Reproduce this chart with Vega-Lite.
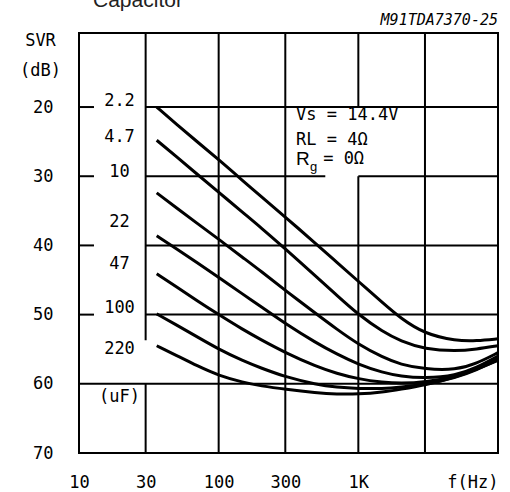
{
  "$schema": "https://vega.github.io/schema/vega-lite/v6.json",
  "width": 419,
  "height": 420,
  "autosize": {"type": "none"},
  "padding": {"left": 79, "top": 33, "right": 12, "bottom": 39},
  "background": "white",
  "config": {"view": {"stroke": "black", "strokeWidth": 2}},
  "datasets": {
    "grid": [
      {"f": 30, "f2": 10000, "db": 20, "db2": 20},
      {"f": 30, "f2": 580, "db": 30, "db2": 30},
      {"f": 1000, "f2": 10000, "db": 30, "db2": 30},
      {"f": 30, "f2": 10000, "db": 40, "db2": 40},
      {"f": 30, "f2": 10000, "db": 50, "db2": 50},
      {"f": 10, "f2": 10000, "db": 60, "db2": 60},
      {"f": 10, "f2": 12.8, "db": 20, "db2": 20},
      {"f": 10, "f2": 12.8, "db": 30, "db2": 30},
      {"f": 10, "f2": 12.8, "db": 40, "db2": 40},
      {"f": 10, "f2": 12.8, "db": 50, "db2": 50},
      {"f": 30, "f2": 30, "db": 9.3, "db2": 53.7},
      {"f": 30, "f2": 30, "db": 60, "db2": 70},
      {"f": 100, "f2": 100, "db": 9.3, "db2": 70},
      {"f": 300, "f2": 300, "db": 9.3, "db2": 70},
      {"f": 1000, "f2": 1000, "db": 9.3, "db2": 20},
      {"f": 1000, "f2": 1000, "db": 30, "db2": 70},
      {"f": 3000, "f2": 3000, "db": 9.3, "db2": 70}
    ],
    "curves": [
      {"cap": "2.2", "f": 36, "db": 20.0}, {"cap": "2.2", "f": 50, "db": 22.5}, {"cap": "2.2", "f": 70, "db": 25.0}, {"cap": "2.2", "f": 100, "db": 27.6},
      {"cap": "2.2", "f": 150, "db": 30.7}, {"cap": "2.2", "f": 200, "db": 32.9}, {"cap": "2.2", "f": 300, "db": 35.9}, {"cap": "2.2", "f": 500, "db": 39.8},
      {"cap": "2.2", "f": 700, "db": 42.4}, {"cap": "2.2", "f": 1000, "db": 45.2}, {"cap": "2.2", "f": 1500, "db": 48.3}, {"cap": "2.2", "f": 2000, "db": 50.5},
      {"cap": "2.2", "f": 3000, "db": 52.8}, {"cap": "2.2", "f": 5000, "db": 53.8}, {"cap": "2.2", "f": 7000, "db": 53.8}, {"cap": "2.2", "f": 10000, "db": 53.5},

      {"cap": "4.7", "f": 36, "db": 24.8}, {"cap": "4.7", "f": 50, "db": 27.2}, {"cap": "4.7", "f": 70, "db": 29.7}, {"cap": "4.7", "f": 100, "db": 32.3},
      {"cap": "4.7", "f": 150, "db": 35.3}, {"cap": "4.7", "f": 200, "db": 37.4}, {"cap": "4.7", "f": 300, "db": 40.5}, {"cap": "4.7", "f": 500, "db": 44.5},
      {"cap": "4.7", "f": 700, "db": 47.2}, {"cap": "4.7", "f": 1000, "db": 50.0}, {"cap": "4.7", "f": 1500, "db": 52.5}, {"cap": "4.7", "f": 2000, "db": 53.8},
      {"cap": "4.7", "f": 3000, "db": 55.0}, {"cap": "4.7", "f": 5000, "db": 55.3}, {"cap": "4.7", "f": 7000, "db": 55.0}, {"cap": "4.7", "f": 10000, "db": 54.5},

      {"cap": "10", "f": 36, "db": 32.4}, {"cap": "10", "f": 50, "db": 34.6}, {"cap": "10", "f": 70, "db": 36.8}, {"cap": "10", "f": 100, "db": 39.1},
      {"cap": "10", "f": 150, "db": 41.8}, {"cap": "10", "f": 200, "db": 43.7}, {"cap": "10", "f": 300, "db": 46.5}, {"cap": "10", "f": 500, "db": 49.9},
      {"cap": "10", "f": 700, "db": 52.1}, {"cap": "10", "f": 1000, "db": 54.3}, {"cap": "10", "f": 1500, "db": 56.2}, {"cap": "10", "f": 2000, "db": 57.2},
      {"cap": "10", "f": 3000, "db": 57.9}, {"cap": "10", "f": 5000, "db": 58.0}, {"cap": "10", "f": 7000, "db": 57.1}, {"cap": "10", "f": 10000, "db": 55.5},

      {"cap": "22", "f": 36, "db": 38.6}, {"cap": "22", "f": 50, "db": 40.5}, {"cap": "22", "f": 70, "db": 42.5}, {"cap": "22", "f": 100, "db": 44.6},
      {"cap": "22", "f": 150, "db": 47.1}, {"cap": "22", "f": 200, "db": 48.8}, {"cap": "22", "f": 300, "db": 51.3}, {"cap": "22", "f": 500, "db": 54.1},
      {"cap": "22", "f": 700, "db": 55.7}, {"cap": "22", "f": 1000, "db": 57.2}, {"cap": "22", "f": 1500, "db": 58.4}, {"cap": "22", "f": 2000, "db": 58.9},
      {"cap": "22", "f": 3000, "db": 59.2}, {"cap": "22", "f": 5000, "db": 58.8}, {"cap": "22", "f": 7000, "db": 57.7}, {"cap": "22", "f": 10000, "db": 56.0},

      {"cap": "47", "f": 36, "db": 44.1}, {"cap": "47", "f": 50, "db": 46.0}, {"cap": "47", "f": 70, "db": 48.0}, {"cap": "47", "f": 100, "db": 50.0},
      {"cap": "47", "f": 150, "db": 52.2}, {"cap": "47", "f": 200, "db": 53.6}, {"cap": "47", "f": 300, "db": 55.5}, {"cap": "47", "f": 500, "db": 57.5},
      {"cap": "47", "f": 700, "db": 58.5}, {"cap": "47", "f": 1000, "db": 59.3}, {"cap": "47", "f": 1500, "db": 59.8}, {"cap": "47", "f": 2000, "db": 59.95},
      {"cap": "47", "f": 3000, "db": 59.8}, {"cap": "47", "f": 5000, "db": 58.9}, {"cap": "47", "f": 7000, "db": 57.9}, {"cap": "47", "f": 10000, "db": 56.3},

      {"cap": "100", "f": 36, "db": 49.9}, {"cap": "100", "f": 50, "db": 51.5}, {"cap": "100", "f": 70, "db": 53.2}, {"cap": "100", "f": 100, "db": 55.0},
      {"cap": "100", "f": 150, "db": 56.7}, {"cap": "100", "f": 200, "db": 57.7}, {"cap": "100", "f": 300, "db": 59.0}, {"cap": "100", "f": 500, "db": 60.1},
      {"cap": "100", "f": 700, "db": 60.5}, {"cap": "100", "f": 1000, "db": 60.7}, {"cap": "100", "f": 1500, "db": 60.7}, {"cap": "100", "f": 2000, "db": 60.5},
      {"cap": "100", "f": 3000, "db": 60.1}, {"cap": "100", "f": 5000, "db": 59.1}, {"cap": "100", "f": 7000, "db": 58.0}, {"cap": "100", "f": 10000, "db": 56.5},

      {"cap": "220", "f": 36, "db": 54.5}, {"cap": "220", "f": 50, "db": 55.9}, {"cap": "220", "f": 70, "db": 57.4}, {"cap": "220", "f": 100, "db": 58.8},
      {"cap": "220", "f": 150, "db": 59.8}, {"cap": "220", "f": 200, "db": 60.3}, {"cap": "220", "f": 300, "db": 60.8}, {"cap": "220", "f": 500, "db": 61.3},
      {"cap": "220", "f": 700, "db": 61.5}, {"cap": "220", "f": 1000, "db": 61.5}, {"cap": "220", "f": 1500, "db": 61.2}, {"cap": "220", "f": 2000, "db": 60.8},
      {"cap": "220", "f": 3000, "db": 60.2}, {"cap": "220", "f": 5000, "db": 59.0}, {"cap": "220", "f": 7000, "db": 57.9}, {"cap": "220", "f": 10000, "db": 56.6}
    ],
    "caplabels": [
      {"label": "2.2", "f": 19.5, "db": 19.1},
      {"label": "4.7", "f": 19.5, "db": 24.3},
      {"label": "10", "f": 19.5, "db": 29.4},
      {"label": "22", "f": 19.5, "db": 36.6},
      {"label": "47", "f": 19.5, "db": 42.7},
      {"label": "100", "f": 19.5, "db": 49.0},
      {"label": "220", "f": 19.5, "db": 55.0},
      {"label": "(uF)", "f": 19.5, "db": 61.9}
    ],
    "notes": [
      {"label": "Vs = 14.4V", "f": 358, "db": 21.1},
      {"label": "RL = 4Ω", "f": 358, "db": 24.8},
      {"label": "= 0Ω", "f": 560, "db": 27.5}
    ],
    "rlabel": [{"label": "R", "f": 358, "db": 27.5}],
    "glabel": [{"label": "g", "f": 450, "db": 28.7}],
    "code": [{"label": "M91TDA7370-25", "f": 10000, "db": 7.4}],
    "heading": [{"label": "Capacitor", "f": 12.6, "db": 5.5}]
  },
  "encoding": {
    "x": {
      "field": "f",
      "type": "quantitative",
      "scale": {"type": "log", "domain": [10, 10000], "nice": false},
      "axis": {
        "values": [10, 30, 100, 300, 1000, 3000, 10000],
        "labelExpr": "datum.value >= 10000 ? 'f(Hz)' : (datum.value == 3000 ? '' : (datum.value == 1000 ? '1K' : format(datum.value, 'd')))",
        "labelAlign": {"condition": {"test": "datum.value >= 10000", "value": "right"}, "value": "center"},
        "labelFont": "DejaVu Sans Mono",
        "labelFontSize": 17,
        "labelColor": "black",
        "labelPadding": 21,
        "labelOverlap": false,
        "labelBound": false,
        "labelFlush": false,
        "ticks": false,
        "domain": false,
        "grid": false,
        "title": null
      }
    },
    "y": {
      "field": "db",
      "type": "quantitative",
      "scale": {"domain": [9.3, 70], "reverse": true, "nice": false, "zero": false},
      "axis": {
        "values": [20, 30, 40, 50, 60, 70],
        "labelFont": "DejaVu Sans Mono",
        "labelFontSize": 17,
        "labelColor": "black",
        "labelPadding": 26,
        "labelOverlap": false,
        "labelBound": false,
        "labelFlush": false,
        "ticks": false,
        "domain": false,
        "grid": false,
        "title": ["SVR", "(dB)"],
        "titleAngle": 0,
        "titleX": -39,
        "titleY": 7,
        "titleAlign": "center",
        "titleBaseline": "middle",
        "titleFont": "DejaVu Sans Mono",
        "titleFontSize": 17,
        "titleFontWeight": "normal",
        "titleColor": "black",
        "titleLineHeight": 30
      }
    }
  },
  "layer": [
    {
      "data": {"name": "grid"},
      "mark": {"type": "rule", "color": "black", "strokeWidth": 2},
      "encoding": {"x2": {"field": "f2"}, "y2": {"field": "db2"}}
    },
    {
      "data": {"name": "curves"},
      "mark": {"type": "line", "color": "black", "strokeWidth": 3, "interpolate": "basis"},
      "encoding": {"detail": {"field": "cap", "type": "nominal"}}
    },
    {
      "data": {"name": "caplabels"},
      "mark": {"type": "text", "font": "DejaVu Sans Mono", "fontSize": 17, "align": "center", "baseline": "middle", "color": "black"},
      "encoding": {"text": {"field": "label"}}
    },
    {
      "data": {"name": "notes"},
      "mark": {"type": "text", "font": "DejaVu Sans Mono", "fontSize": 17, "align": "left", "baseline": "middle", "color": "black"},
      "encoding": {"text": {"field": "label"}}
    },
    {
      "data": {"name": "rlabel"},
      "mark": {"type": "text", "font": "Liberation Sans", "fontSize": 19, "align": "left", "baseline": "middle", "color": "black"},
      "encoding": {"text": {"field": "label"}}
    },
    {
      "data": {"name": "glabel"},
      "mark": {"type": "text", "font": "Liberation Sans", "fontSize": 13, "align": "left", "baseline": "middle", "color": "black"},
      "encoding": {"text": {"field": "label"}}
    },
    {
      "data": {"name": "code"},
      "mark": {"type": "text", "font": "DejaVu Sans Mono", "fontSize": 15, "fontStyle": "italic", "align": "right", "baseline": "middle", "color": "black"},
      "encoding": {"text": {"field": "label"}}
    },
    {
      "data": {"name": "heading"},
      "mark": {"type": "text", "font": "Liberation Sans", "fontSize": 21, "align": "left", "baseline": "alphabetic", "color": "#222222"},
      "encoding": {"text": {"field": "label"}}
    }
  ]
}
